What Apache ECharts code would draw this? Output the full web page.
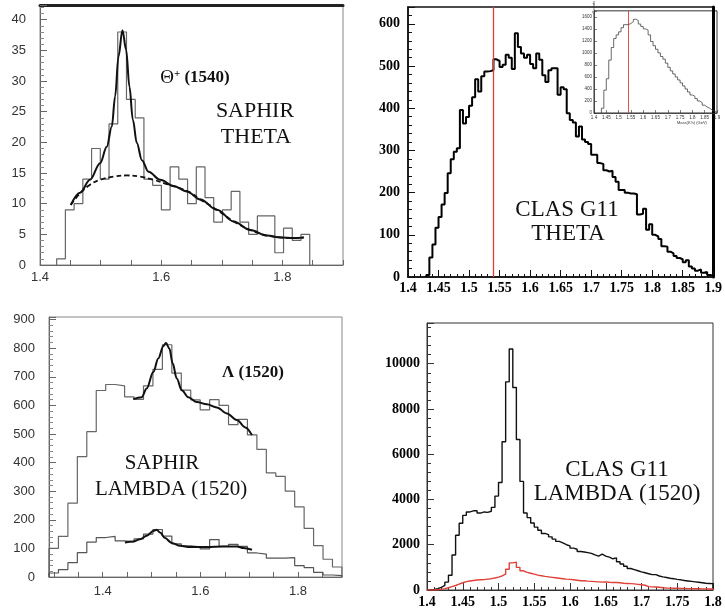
<!DOCTYPE html>
<html><head><meta charset="utf-8">
<script src="https://cdn.jsdelivr.net/npm/echarts@6/dist/echarts.min.js"></script>
<style>html,body{margin:0;padding:0;background:#fff}#c{width:725px;height:610px}</style>
</head><body><div id="c"></div>
<script>
// ---------- Panel 1: SAPHIR THETA ----------
const p1BinStart = 1.4275, p1BinWidth = 0.0144;
const p1Counts = [1, 9, 10, 14, 19, 14, 23, 38, 27, 24, 14, 13, 9, 16, 14, 10, 16, 11, 7, 9, 12, 7, 5, 8, 8, 2, 6, 4, 5];
const p1FitMass = [1.4507,1.4661,1.4826,1.4992,1.5102,1.5185,1.524,1.5295,1.536,1.5421,1.5476,1.5532,1.5598,1.5681,1.579,1.5983,1.6204,1.6424,1.6645,1.692,1.7196,1.7471,1.7747,1.7967,1.8187,1.8353];
const p1FitCounts = [9.8,11.8,13.9,16.6,19.3,22.6,27.5,34,38.3,35.1,29.1,23.7,19.9,17.1,15.2,13.9,12.9,12,10.7,9,7.1,5.7,4.8,4.5,4.4,4.5];
const p1BgMass = [1.4507,1.4661,1.4826,1.4992,1.5212,1.5433,1.5653,1.5873,1.6094,1.6314,1.6479,1.6645,1.692,1.7196,1.7471,1.7747,1.7967,1.8187,1.8353];
const p1BgCounts = [9.8,11.7,13.1,13.9,14.4,14.6,14.4,13.9,13.2,12.5,11.8,10.7,9,7.1,5.7,4.8,4.5,4.4,4.5];
const p1XLabels = [1.4, 1.6, 1.8];

// ---------- Panel 2: CLAS G11 THETA ----------
const p2BinStart = 1.43, p2BinWidth = 0.005;
const p2Counts = [5,46,77,117,142,172,199,246,279,297,305,396,364,379,406,426,469,440,476,487,488,490,516,512,498,503,527,520,493,578,545,530,520,527,505,495,530,515,478,462,490,495,495,432,450,445,388,372,366,333,357,326,320,315,290,290,270,268,253,250,252,237,226,206,206,200,198,198,196,148,150,162,112,125,100,96,90,73,72,60,56,50,45,42,35,40,25,20,15,18,10,12,5,3];
const p2MarkerMass = 1.54;
const insetBinStart = 1.43, insetBinWidth = 0.01;
const insetCounts = [80,380,570,880,1090,1240,1300,1350,1420,1470,1470,1490,1520,1560,1540,1480,1440,1400,1380,1300,1190,1120,1060,1000,940,896,830,760,700,650,600,550,500,450,400,350,300,280,240,200,170,130,100,80,50,30,10];

// ---------- Panel 3: SAPHIR LAMBDA (1520) ----------
const p3BinStart = 1.29, p3BinWidth = 0.01935;
const p3Upper = [100,142,258,421,508,652,673,668,630,621,668,726,812,713,653,619,584,620,600,533,551,497,446,364,352,300,245,170,110,62,35];
const p3Lower = [14,26,50,85,122,138,142,126,123,133,150,166,143,116,109,105,98,131,107,114,107,84,80,66,66,68,40,33,16,7,5];
const p3FitUMass = [1.4625,1.4797,1.49,1.5036,1.5138,1.5241,1.5296,1.5364,1.5434,1.5516,1.5619,1.5754,1.5927,1.6132,1.6337,1.6543,1.6748,1.6919,1.7056];
const p3FitUCounts = [622,628,659,717,764,807,818,799,746,694,653,628,612,604,593,572,549,523,496];
const p3FitLMass = [1.4454,1.4625,1.4763,1.49,1.5036,1.5105,1.5173,1.5276,1.5413,1.5584,1.5789,1.6132,1.6473,1.6748,1.6884,1.7056];
const p3FitLCounts = [121,124,132,144,161,165,156,136,119,109,105,105,107,107,101,95];
const p3XTicks = [1.3,1.35,1.4,1.45,1.5,1.55,1.6,1.65,1.7,1.75,1.8,1.85];
const p3XLabels = [1.4, 1.6, 1.8];

// ---------- Panel 4: CLAS G11 LAMBDA (1520) ----------
const p4BinStart = 1.4, p4BinWidth = 0.005;
const p4All = [10,30,60,120,200,350,650,1550,2420,2950,3300,3450,3500,3500,3400,3450,3430,3480,3650,4150,4750,6550,9200,10650,8950,6650,4800,3400,3200,2960,2780,2640,2500,2450,2350,2250,2150,2080,2000,1950,1850,1800,1700,1680,1650,1620,1550,1500,1580,1500,1450,1380,1420,1250,1150,1050,950,900,850,800,760,720,680,680,620,580,550,520,500,470,450,420,400,380,360,340,320,300,290,280];
const p4Red = [0,0,10,30,60,100,150,200,260,320,370,400,420,440,450,460,480,500,530,570,620,700,920,1200,1230,1000,850,780,740,700,660,630,600,580,560,540,520,500,480,470,450,430,410,410,390,380,370,360,350,360,340,330,330,320,300,290,280,270,250,230,210,150,140,130,120,100,90,85,80,75,70,65,60,60,55,55,50,50,45,45];

function histPoints(start, width, counts) {
  const pts = [[start, 0]];
  counts.forEach((c, i) => {
    const a = start + i * width;
    pts.push([a, c], [a + width, c]);
  });
  pts.push([start + counts.length * width, 0]);
  return pts;
}
const zip = (xs, ys) => xs.map((x, i) => [x, ys[i]]);

const sansLbl = {fontFamily: 'Liberation Sans', fontSize: 13, color: '#333'};
const serifLbl = {fontFamily: 'Liberation Serif', fontWeight: 'bold', fontSize: 14, color: '#000'};
const fmt2 = v => String(Number(v.toFixed(2)));

const chart = echarts.init(document.getElementById('c'), null, {renderer: 'canvas'});
const red = '#e0403a';
const markerLine = (w) => ({silent: true, symbol: ['none', 'none'], label: {show: false},
  emphasis: {disabled: true}, itemStyle: {color: red},
  lineStyle: {color: red, width: w, type: 'solid', opacity: 1},
  data: [{xAxis: p2MarkerMass, lineStyle: {color: red, width: w}}]});

const option = {
  animation: false,
  backgroundColor: '#fff',
  grid: [
    {left: 40, top: 5, width: 303, height: 260, show: true, borderColor: '#888', borderWidth: 1},
    {left: 408, top: 7, width: 309, height: 270, show: true, borderColor: '#111', borderWidth: 1.5},
    {left: 594, top: 7, width: 123, height: 106, show: true, borderColor: '#333', borderWidth: 1, backgroundColor: '#fff'},
    {left: 49, top: 317, width: 293, height: 260, show: true, borderColor: '#888', borderWidth: 1},
    {left: 427, top: 323, width: 286, height: 267, show: true, borderColor: '#333', borderWidth: 1}
  ],
  xAxis: [
    {gridIndex: 0, type: 'value', min: 1.4, max: 1.9, interval: 0.05,
      axisLine: {show: true, lineStyle: {color: '#666'}},
      axisTick: {show: true, inside: true, length: 5, lineStyle: {color: '#666'}},
      axisLabel: Object.assign({margin: 6, formatter: v => p1XLabels.some(t => Math.abs(t - v) < 1e-6) ? v.toFixed(1) : ''}, sansLbl),
      splitLine: {show: false}},
    {gridIndex: 0, type: 'value', position: 'top', min: 1.4, max: 1.9,
      axisLine: {show: true, lineStyle: {color: '#222', width: 3}},
      axisTick: {show: false}, axisLabel: {show: false}, splitLine: {show: false}},
    {gridIndex: 1, type: 'value', min: 1.4, max: 1.9, interval: 0.05,
      axisLine: {show: true, lineStyle: {color: '#111', width: 1.5}},
      axisTick: {show: true, inside: true, length: 7, lineStyle: {color: '#111'}},
      minorTick: {show: true, splitNumber: 5, length: 3, lineStyle: {color: '#111'}},
      axisLabel: Object.assign({margin: 4, formatter: fmt2, showMaxLabel: true}, serifLbl),
      splitLine: {show: false}},
    {gridIndex: 2, type: 'value', min: 1.4, max: 1.9, interval: 0.05,
      name: 'Mass(K⁺n) (GeV)', nameLocation: 'end', nameGap: -40,
      nameTextStyle: {fontSize: 4, color: '#333', verticalAlign: 'top', padding: [8, 0, 0, 0]},
      axisLine: {show: true, lineStyle: {color: '#333', width: 0.8}},
      axisTick: {show: true, inside: true, length: 3, lineStyle: {color: '#333', width: 0.6}},
      axisLabel: {margin: 2, fontSize: 4.5, color: '#333', formatter: fmt2},
      splitLine: {show: false}},
    {gridIndex: 3, type: 'value', min: 1.29, max: 1.89,
      axisLine: {show: true, lineStyle: {color: '#666'}},
      axisTick: {show: true, inside: true, length: 5, customValues: p3XTicks, lineStyle: {color: '#666'}},
      axisLabel: Object.assign({margin: 8, customValues: p3XLabels, formatter: v => v.toFixed(1)}, sansLbl),
      splitLine: {show: false}},
    {gridIndex: 4, type: 'value', min: 1.4, max: 1.8, interval: 0.05,
      axisLine: {show: true, lineStyle: {color: '#333'}},
      axisTick: {show: true, inside: true, length: 7, lineStyle: {color: '#333'}},
      minorTick: {show: true, splitNumber: 5, length: 3, lineStyle: {color: '#333'}},
      axisLabel: Object.assign({margin: 5, formatter: fmt2}, serifLbl),
      splitLine: {show: false}}
  ],
  yAxis: [
    {gridIndex: 0, type: 'value', min: 0, max: 42.4, interval: 5,
      axisLine: {show: true, lineStyle: {color: '#666'}},
      axisTick: {show: true, inside: true, length: 7, lineStyle: {color: '#666'}},
      minorTick: {show: true, splitNumber: 5, length: 4, lineStyle: {color: '#888'}},
      axisLabel: Object.assign({margin: 14, formatter: v => v <= 40 ? String(v) : ''}, sansLbl),
      splitLine: {show: false}},
    {gridIndex: 1, type: 'value', min: 0, max: 640, interval: 100,
      axisLine: {show: true, lineStyle: {color: '#111', width: 1.5}},
      axisTick: {show: true, inside: true, length: 7, lineStyle: {color: '#111'}},
      minorTick: {show: true, splitNumber: 5, length: 4, lineStyle: {color: '#111'}},
      axisLabel: Object.assign({margin: 8, formatter: v => v <= 600 ? String(v) : ''}, serifLbl),
      splitLine: {show: false}},
    {gridIndex: 1, type: 'value', position: 'right', min: 0, max: 640,
      axisLine: {show: true, lineStyle: {color: '#000', width: 3}},
      axisTick: {show: false}, axisLabel: {show: false}, splitLine: {show: false}},
    {gridIndex: 2, type: 'value', min: 0, max: 1700, interval: 200,
      name: 'Counts', nameLocation: 'end', nameRotate: 90, nameGap: -10,
      nameTextStyle: {fontSize: 4, color: '#333', padding: [0, 0, 12, 0]},
      axisLine: {show: true, lineStyle: {color: '#333', width: 0.8}},
      axisTick: {show: true, inside: true, length: 3, lineStyle: {color: '#333', width: 0.6}},
      axisLabel: {margin: 2, fontSize: 4.5, color: '#333', formatter: v => v <= 1600 ? String(v) : ''},
      splitLine: {show: false}},
    {gridIndex: 3, type: 'value', min: 0, max: 909, interval: 100,
      axisLine: {show: true, lineStyle: {color: '#666'}},
      axisTick: {show: true, inside: true, length: 7, lineStyle: {color: '#666'}},
      minorTick: {show: true, splitNumber: 5, length: 4, lineStyle: {color: '#888'}},
      axisLabel: Object.assign({margin: 14, formatter: v => v <= 900 ? String(v) : ''}, sansLbl),
      splitLine: {show: false}},
    {gridIndex: 4, type: 'value', min: 0, max: 11800, interval: 2000,
      axisLine: {show: true, lineStyle: {color: '#333'}},
      axisTick: {show: true, inside: true, length: 7, lineStyle: {color: '#333'}},
      minorTick: {show: true, splitNumber: 5, length: 4, lineStyle: {color: '#333'}},
      axisLabel: Object.assign({margin: 7, formatter: v => v <= 10000 ? String(v) : ''}, serifLbl),
      splitLine: {show: false}}
  ],
  series: [
    {type: 'line', xAxisIndex: 0, yAxisIndex: 0, data: histPoints(p1BinStart, p1BinWidth, p1Counts),
      symbol: 'none', lineStyle: {color: '#666', width: 1.2}, z: 2},
    {type: 'line', xAxisIndex: 0, yAxisIndex: 0, data: zip(p1BgMass, p1BgCounts), smooth: 0.4,
      symbol: 'none', lineStyle: {color: '#111', width: 1.8, type: [5, 3]}, z: 3},
    {type: 'line', xAxisIndex: 0, yAxisIndex: 0, data: zip(p1FitMass, p1FitCounts), smooth: 0.35, smoothMonotone: 'x',
      symbol: 'none', lineStyle: {color: '#111', width: 2}, z: 4},

    {type: 'line', xAxisIndex: 2, yAxisIndex: 1, data: histPoints(p2BinStart, p2BinWidth, p2Counts),
      symbol: 'none', lineStyle: {color: '#000', width: 2}, z: 3, markLine: markerLine(1.3)},
    {type: 'line', xAxisIndex: 3, yAxisIndex: 3, data: histPoints(insetBinStart, insetBinWidth, insetCounts),
      symbol: 'none', lineStyle: {color: '#444', width: 0.8}, z: 5, markLine: markerLine(0.9)},

    {type: 'line', xAxisIndex: 4, yAxisIndex: 4, data: histPoints(p3BinStart, p3BinWidth, p3Upper),
      symbol: 'none', lineStyle: {color: '#666', width: 1.2}, z: 2},
    {type: 'line', xAxisIndex: 4, yAxisIndex: 4, data: histPoints(p3BinStart, p3BinWidth, p3Lower),
      symbol: 'none', lineStyle: {color: '#555', width: 1.2}, z: 2},
    {type: 'line', xAxisIndex: 4, yAxisIndex: 4, data: zip(p3FitUMass, p3FitUCounts), smooth: 0.35, smoothMonotone: 'x',
      symbol: 'none', lineStyle: {color: '#111', width: 2}, z: 4},
    {type: 'line', xAxisIndex: 4, yAxisIndex: 4, data: zip(p3FitLMass, p3FitLCounts), smooth: 0.35, smoothMonotone: 'x',
      symbol: 'none', lineStyle: {color: '#111', width: 2}, z: 4},

    {type: 'line', xAxisIndex: 5, yAxisIndex: 5, data: histPoints(p4BinStart, p4BinWidth, p4All),
      symbol: 'none', lineStyle: {color: '#111', width: 1.4}, z: 3},
    {type: 'line', xAxisIndex: 5, yAxisIndex: 5, data: histPoints(p4BinStart, p4BinWidth, p4Red),
      symbol: 'none', lineStyle: {color: red, width: 1.4}, z: 3}
  ],
  graphic: [
    {type: 'text', x: 195, y: 78, z: 10, style: {
      text: '{t|Θ}{p|+}{n| (1540)}', textAlign: 'center', textVerticalAlign: 'middle',
      rich: {t: {font: '19px "Liberation Serif"', fill: '#111'},
             p: {font: 'bold 11px "Liberation Serif"', fill: '#111', verticalAlign: 'top'},
             n: {font: 'bold 17px "Liberation Serif"', fill: '#111'}}}},
    {type: 'text', x: 255, y: 111, z: 10, style: {text: 'SAPHIR', font: '22px "Liberation Serif"', fill: '#111', textAlign: 'center', textVerticalAlign: 'middle'}},
    {type: 'text', x: 256, y: 137, z: 10, style: {text: 'THETA', font: '22px "Liberation Serif"', fill: '#111', textAlign: 'center', textVerticalAlign: 'middle'}},

    {type: 'text', x: 567, y: 210, z: 10, style: {text: 'CLAS G11', font: '23px "Liberation Serif"', fill: '#111', textAlign: 'center', textVerticalAlign: 'middle'}},
    {type: 'text', x: 568, y: 234, z: 10, style: {text: 'THETA', font: '23px "Liberation Serif"', fill: '#111', textAlign: 'center', textVerticalAlign: 'middle'}},

    {type: 'text', x: 253, y: 373, z: 10, style: {text: 'Λ (1520)', font: 'bold 17px "Liberation Serif"', fill: '#111', textAlign: 'center', textVerticalAlign: 'middle'}},
    {type: 'text', x: 162, y: 463, z: 10, style: {text: 'SAPHIR', font: '21px "Liberation Serif"', fill: '#111', textAlign: 'center', textVerticalAlign: 'middle'}},
    {type: 'text', x: 171, y: 489, z: 10, style: {text: 'LAMBDA (1520)', font: '21px "Liberation Serif"', fill: '#111', textAlign: 'center', textVerticalAlign: 'middle'}},

    {type: 'text', x: 617, y: 470, z: 10, style: {text: 'CLAS G11', font: '23px "Liberation Serif"', fill: '#111', textAlign: 'center', textVerticalAlign: 'middle'}},
    {type: 'text', x: 617, y: 494, z: 10, style: {text: 'LAMBDA (1520)', font: '23px "Liberation Serif"', fill: '#111', textAlign: 'center', textVerticalAlign: 'middle'}}
  ]
};
chart.setOption(option);
</script></body></html>
